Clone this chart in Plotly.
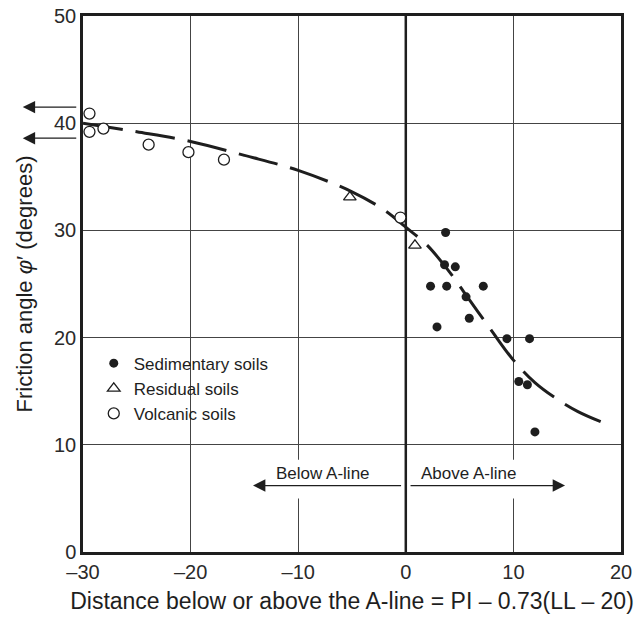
import plotly.graph_objects as go

# Friction angle vs. distance from the A-line, grouped by soil origin
sed_x = [3.7, 3.6, 4.6, 2.3, 3.8, 7.2, 5.6, 5.9, 2.9, 9.4, 11.5, 10.5, 11.3, 12.0]
sed_y = [29.8, 26.8, 26.6, 24.8, 24.8, 24.8, 23.8, 21.8, 21.0, 19.9, 19.9, 15.9, 15.6, 11.2]

res_x = [-5.2, 0.85]
res_y = [33.1, 28.6]

vol_x = [-29.4, -29.4, -28.1, -23.9, -20.2, -16.9, -0.5]
vol_y = [40.9, 39.2, 39.5, 38.0, 37.3, 36.6, 31.2]

# Trend line through the data
trend_x = [-30, -25, -20, -15, -10, -5, -2, 0, 2, 4, 6, 8, 10, 12, 14, 16, 18.5]
trend_y = [40.0, 39.2, 38.3, 37.0, 35.6, 33.6, 31.9, 30.3, 28.6, 26.2, 23.4, 20.6, 17.9, 15.8, 14.3, 13.1, 12.0]

x_ticks = [-30, -20, -10, 0, 10, 20]
y_ticks = [0, 10, 20, 30, 40, 50]

FONT = "Liberation Sans, Arial, sans-serif"
INK = "#1e1e1e"
TICK_INK = "#2a2a2a"

fig = go.Figure()

fig.add_trace(go.Scatter(
    x=trend_x, y=trend_y, mode="lines", line=dict(color=INK, width=3, dash="40px,13px", shape="spline"),
    showlegend=False, hoverinfo="skip"))

fig.add_trace(go.Scatter(
    x=sed_x, y=sed_y, mode="markers", name="Sedimentary soils", legendgroup="a",
    marker=dict(symbol="circle", size=9, color=INK, line=dict(width=0))))
fig.add_trace(go.Scatter(
    x=res_x, y=res_y, mode="markers", name="Residual soils", legendgroup="b",
    marker=dict(symbol="triangle-up-open", size=11, color=INK, line=dict(width=1.3))))
fig.add_trace(go.Scatter(
    x=vol_x, y=vol_y, mode="markers", name="Volcanic soils", legendgroup="c",
    marker=dict(symbol="circle", size=11, color="white", line=dict(width=1.3, color=INK))))

# Bold vertical line at the A-line
fig.add_shape(type="line", x0=0, x1=0, y0=0, y1=50, xref="x", yref="y",
              line=dict(color=INK, width=2.5), layer="between")

# Clear the grid behind the region labels
for x0, x1 in [(-13.5, -1.0), (1.0, 14.0)]:
    fig.add_shape(type="rect", x0=x0, x1=x1, y0=5.0, y1=8.6, xref="x", yref="y",
                  fillcolor="white", line=dict(width=0), layer="between")

ARROW = dict(showarrow=True, arrowhead=2, arrowsize=1.9, arrowwidth=1.3, arrowcolor=INK, text="")

# Region arrows
fig.add_annotation(x=-14.2, y=6.2, ax=-0.3, ay=6.2, xref="x", yref="y", axref="x", ayref="y", **ARROW)
fig.add_annotation(x=14.8, y=6.2, ax=0.3, ay=6.2, xref="x", yref="y", axref="x", ayref="y", **ARROW)
fig.add_annotation(x=-7.7, y=7.3, xref="x", yref="y", text="Below A-line", showarrow=False,
                   font=dict(family=FONT, size=17, color=INK))
fig.add_annotation(x=5.8, y=7.3, xref="x", yref="y", text="Above A-line", showarrow=False,
                   font=dict(family=FONT, size=17, color=INK))

# Arrows beside the y axis
for yv in [41.5, 38.6]:
    fig.add_annotation(x=-0.112, y=yv, xref="paper", yref="y", ax=55, ay=0, **ARROW)

axis_common = dict(
    showgrid=True, gridcolor="#444", gridwidth=1, zeroline=False,
    showline=True, linecolor=INK, linewidth=2.5, mirror=True, ticks="",
    tickfont=dict(family=FONT, size=20, color=TICK_INK), automargin=False,
)

fig.update_xaxes(range=[-30, 20], tickvals=x_ticks, ticktext=[str(v).replace("-", "–") for v in x_ticks],
                 title=dict(text="Distance below or above the A-line = PI – 0.73(LL – 20)",
                            font=dict(family=FONT, size=23, color=INK), standoff=12),
                 **axis_common)
fig.update_yaxes(range=[0, 50], tickvals=y_ticks,
                 title=dict(text="Friction angle <i>φ</i>′ (degrees)",
                            font=dict(family=FONT, size=22, color=INK), standoff=16),
                 **axis_common)

fig.update_layout(
    width=634, height=619,
    margin=dict(l=83, r=13, t=16, b=67),
    paper_bgcolor="white", plot_bgcolor="white",
    font=dict(family=FONT, color=INK),
    legend=dict(x=0.02, y=0.385, xanchor="left", yanchor="top", bgcolor="rgba(0,0,0,0)",
                font=dict(family=FONT, size=17, color=INK), tracegroupgap=0,
                traceorder="grouped", itemwidth=30),
)

fig.write_html("out.html")
